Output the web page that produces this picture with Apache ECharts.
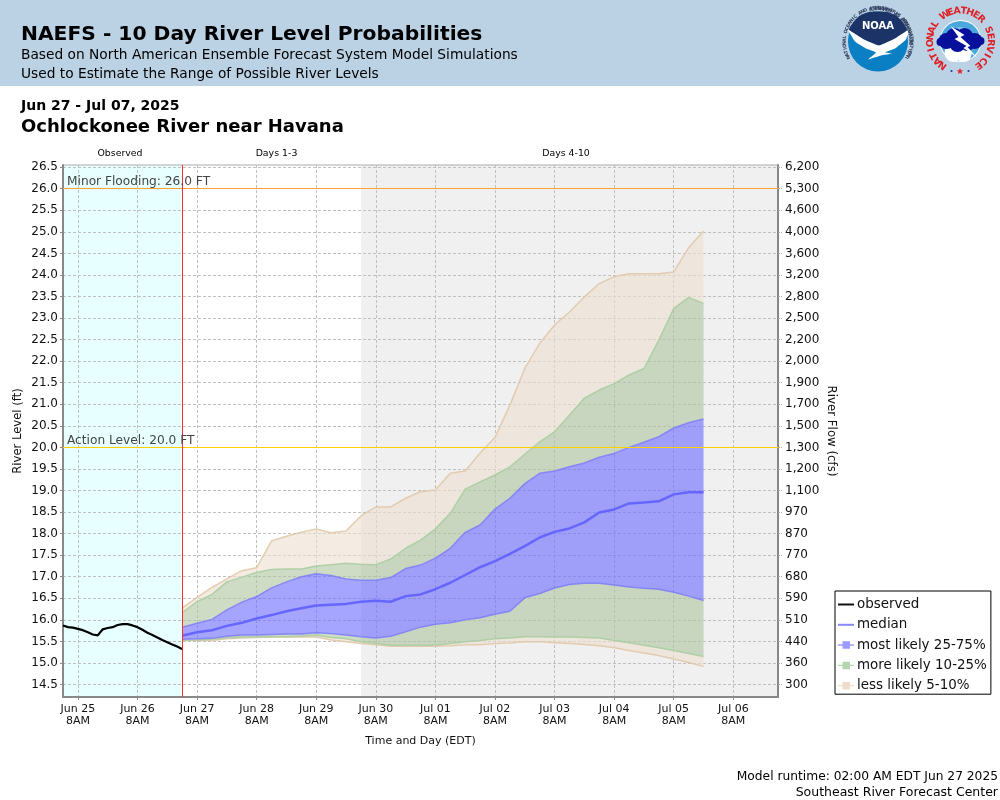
<!DOCTYPE HTML>
<html lang="en">
<head>
<title>NAEFS - 10 Day River Level Probabilities</title>
<meta http-equiv="Content-Type" content="text/html; charset=utf-8" />
<style type="text/css">
html,body{ margin:0; padding:0; background:#fff; }
#container{ width:1000px; height:800px; }
</style>
</head>
<body>
<div id="container"></div>
<script src="https://cdn.jsdelivr.net/npm/echarts@6/dist/echarts.min.js"></script>
<script>
// x values are hours since Jun 25 00:00 EDT
var levelTicks = [14.5,15,15.5,16,16.5,17,17.5,18,18.5,19,19.5,20,20.5,21,21.5,22,22.5,23,23.5,24,24.5,25,25.5,26,26.5];
var flowLabels = ['300','360','440','510','590','680','770','870','970','1,100','1,200','1,300','1,500','1,700','1,900','2,000','2,200','2,500','2,800','3,200','3,600','4,000','4,600','5,300','6,200'];
var dayTicks = [8,32,56,80,104,128,152,176,200,224,248,272];
var dayLabels = ['Jun 25','Jun 26','Jun 27','Jun 28','Jun 29','Jun 30','Jul 01','Jul 02','Jul 03','Jul 04','Jul 05','Jul 06'];

var observedHours = [2,4,6,8,10,12,14,16,18,20,22,24,26,28,30,32,34,36,38,40,42,44,46,48,50];
var observed = [15.87,15.83,15.82,15.79,15.76,15.71,15.66,15.64,15.78,15.81,15.83,15.88,15.90,15.90,15.87,15.83,15.77,15.70,15.65,15.59,15.53,15.48,15.43,15.38,15.32];

var forecastHours = [50,56,62,68,74,80,86,92,98,104,110,116,122,128,134,140,146,152,158,164,170,176,182,188,194,200,206,212,218,224,230,236,242,248,254,260];
var median = [15.63,15.71,15.76,15.86,15.93,16.03,16.11,16.20,16.27,16.33,16.35,16.37,16.42,16.44,16.42,16.55,16.59,16.71,16.86,17.04,17.22,17.36,17.53,17.71,17.91,18.04,18.12,18.26,18.49,18.56,18.70,18.72,18.75,18.91,18.96,18.96];
var p05 = [15.52,15.52,15.52,15.56,15.58,15.59,15.60,15.60,15.60,15.60,15.53,15.49,15.45,15.42,15.39,15.39,15.39,15.39,15.40,15.42,15.42,15.45,15.46,15.49,15.49,15.47,15.45,15.43,15.40,15.35,15.29,15.23,15.17,15.09,15.01,14.92];
var p10 = [15.52,15.53,15.55,15.58,15.60,15.60,15.61,15.61,15.62,15.64,15.59,15.56,15.49,15.45,15.41,15.41,15.41,15.41,15.45,15.49,15.52,15.56,15.58,15.61,15.61,15.60,15.60,15.59,15.58,15.52,15.47,15.41,15.35,15.29,15.22,15.15];
var p25 = [15.55,15.56,15.57,15.62,15.65,15.65,15.66,15.67,15.67,15.70,15.68,15.65,15.61,15.58,15.62,15.72,15.83,15.90,15.93,16.00,16.05,16.13,16.20,16.51,16.61,16.74,16.82,16.85,16.85,16.81,16.76,16.73,16.71,16.64,16.55,16.45];
var p75 = [15.83,15.92,16.01,16.23,16.41,16.54,16.74,16.88,17.00,17.07,17.03,16.95,16.92,16.92,16.98,17.19,17.27,17.43,17.66,18.03,18.20,18.57,18.82,19.16,19.40,19.45,19.55,19.64,19.77,19.86,20.00,20.12,20.25,20.45,20.57,20.66];
var p90 = [16.16,16.42,16.59,16.88,16.99,17.10,17.17,17.18,17.18,17.25,17.28,17.31,17.29,17.28,17.41,17.66,17.85,18.11,18.47,19.03,19.20,19.36,19.55,19.84,20.13,20.36,20.75,21.14,21.33,21.48,21.68,21.83,22.49,23.22,23.48,23.34];
var p95 = [16.27,16.52,16.75,16.95,17.14,17.21,17.83,17.94,18.03,18.11,18.02,18.06,18.41,18.62,18.62,18.82,18.97,19.01,19.40,19.45,19.87,20.23,20.98,21.83,22.41,22.84,23.14,23.49,23.80,23.96,24.03,24.03,24.03,24.07,24.63,25.02];

var FONT = '"DejaVu Sans"';
var BLUE_FILL = 'rgba(105,105,255,0.6)', BLUE_EDGE = 'rgba(120,120,250,0.8)';
var GREEN_FILL = 'rgba(173,197,160,0.6)', GREEN_EDGE = 'rgba(170,205,160,0.9)';
var TAN_FILL = 'rgba(237,223,206,0.6)', TAN_EDGE = 'rgba(225,200,170,0.9)';
var GRID_LINE = { color: '#c0c0c0', type: [3, 2], width: 1 };

function pairs(xs, ys) {
    return xs.map(function (x, i) { return [x, ys[i]]; });
}
// one polygon between two percentile lists, drawn once for the whole series
function bandSeries(name, lo, hi, fill) {
    return {
        name: name, type: 'custom', silent: true, z: 3, clip: true,
        data: forecastHours.map(function (x, i) { return [x, lo[i], hi[i]]; }),
        encode: { x: 0, y: [1, 2] },
        renderItem: function (params, api) {
            if (params.dataIndex !== 0) return;
            var top = [], bottom = [];
            for (var i = 0; i < forecastHours.length; i++) {
                bottom.push(api.coord([forecastHours[i], lo[i]]));
                top.unshift(api.coord([forecastHours[i], hi[i]]));
            }
            return { type: 'polygon', shape: { points: bottom.concat(top) }, style: { fill: fill, stroke: null } };
        }
    };
}
function edgeSeries(name, values, color) {
    return {
        name: name, type: 'line', showSymbol: false, symbol: 'none', silent: true, z: 4,
        data: pairs(forecastHours, values),
        lineStyle: { color: color, width: 1.5 }
    };
}

// header and page text
function label(x, y, text, font, align, fill) {
    return { type: 'text', x: x, y: y, silent: true,
        style: { text: text, font: font, fill: fill || '#000', align: align || 'left', verticalAlign: 'middle' } };
}
// letters around a circle, angles are clockwise from the top
function ringText(cx, cy, r, text, start, step, font, fill, inward) {
    var out = [];
    for (var i = 0; i < text.length; i++) {
        var a = (start + step * i) * Math.PI / 180;
        out.push({ type: 'text', silent: true,
            x: cx + r * Math.sin(a), y: cy - r * Math.cos(a),
            rotation: inward ? -a + Math.PI : -a,
            style: { text: text[i], font: font, fill: fill, align: 'center', verticalAlign: 'middle' } });
    }
    return out;
}
function disc(x, y, r, fill) {
    return { type: 'circle', silent: true, shape: { cx: x, cy: y, r: r }, style: { fill: fill } };
}
function poly(points, fill, smooth) {
    return { type: 'polygon', silent: true, shape: { points: points, smooth: smooth || 0 }, style: { fill: fill } };
}

var noaaLogo = {
    type: 'group', x: -2, y: 1.5,
    children: [
        disc(880, 40, 30, '#0a7fc4'),
        poly([[851,29],[855,21],[862,14],[871,10.5],[880,10],[889,10.5],[898,14],[905,21],[909,29],[897,37],[881,44],[866,38]], '#1c3368', 0.2),
        poly([[850,28],[866,38],[881,44],[897,37],[911,28],[908,38],[897,47],[887,51],[894,52],[883,54],[870,58],[878,51],[868,47],[857,40]], '#fff', 0.1),
        label(880, 25, 'NOAA', 'bold 10px ' + FONT, 'center', '#fff')
    ].concat(
        ringText(880, 40, 33.5, 'NATIONAL OCEANIC AND ATMOSPHERIC ADMINISTRATION', -118, 5.05, 'bold 4.6px ' + FONT, '#33415f', false),
        ringText(880, 40, 33.5, 'U.S. DEPARTMENT OF COMMERCE', 118, -5.05, 'bold 4.6px ' + FONT, '#33415f', true)
    )
};

var nwsLogo = {
    type: 'group', x: 1.5, y: 0,
    children: [
        disc(959, 41, 21, '#fff'),
        disc(959, 41, 20, '#4aa8dc'),
        disc(959, 41, 14, '#7cc4e8'),
        disc(952, 53, 9, '#fff'), disc(962, 54, 8, '#fff'),
        disc(945, 41, 8, '#06109a'), disc(953, 37, 9, '#06109a'), disc(963, 37, 9, '#06109a'),
        disc(973, 41, 8, '#06109a'), disc(956, 44, 8, '#06109a'), disc(966, 44, 7, '#06109a'), disc(939, 42, 4, '#06109a'), disc(979, 41, 4, '#06109a'),
        poly([[949,26],[963,35],[959,37],[969,46],[966,47],[976,58],[962,48],[965,46],[953,39],[957,37]], '#fff'),
        disc(950, 71, 1.1, '#1c3fa0'), disc(967, 71, 1.1, '#1c3fa0'),
        poly([[958.5,68],[959.4,70.3],[961.8,70.3],[959.9,71.8],[960.6,74],[958.5,72.7],[956.4,74],[957.1,71.8],[955.2,70.3],[957.6,70.3]], '#e02027')
    ].concat(
        ringText(959, 41, 30, 'NATIONAL WEATHER SERVICE', -144, 12.5, 'bold 9.5px ' + FONT, '#e02027', false)
    )
};

var pageGraphics = [
    { type: 'rect', silent: true, shape: { x: 0, y: 0, width: 1000, height: 86 }, style: { fill: '#bbd2e5' } },
    label(21, 34.5, 'NAEFS - 10 Day River Level Probabilities', 'bold 20.25px ' + FONT),
    label(21, 55, 'Based on North American Ensemble Forecast System Model Simulations', '13.75px ' + FONT),
    label(21, 74, 'Used to Estimate the Range of Possible River Levels', '13.75px ' + FONT),
    label(21, 106.5, 'Jun 27 - Jul 07, 2025', 'bold 14px ' + FONT),
    label(21, 127, 'Ochlockonee River near Havana', 'bold 18px ' + FONT),
    label(120, 154, 'Observed', '9.4px ' + FONT, 'center'),
    label(276.5, 154, 'Days 1-3', '9.4px ' + FONT, 'center'),
    label(566, 154, 'Days 4-10', '9.4px ' + FONT, 'center'),
    label(998, 776.5, 'Model runtime: 02:00 AM EDT Jun 27 2025', '12.25px ' + FONT, 'right'),
    label(998, 792.5, 'Southeast River Forecast Center', '12.5px ' + FONT, 'right'),
    noaaLogo,
    nwsLogo
];

var chart = echarts.init(document.getElementById('container'));
var legendIcon = 'path://M0 4.5h16v1.4H0z M4.5 1.5h7.5v7.5H4.5z';
var lineIcon = 'path://M0 4.5h16v2H0z';

var option = {
    animation: false,
    backgroundColor: '#fff',
    textStyle: { fontFamily: FONT },
    graphic: { elements: pageGraphics },
    grid: { left: 63, right: 222, top: 165, bottom: 103, outerBoundsMode: 'none', show: true, borderColor: '#aaa', borderWidth: 1, backgroundColor: 'transparent' },
    legend: {
        left: 835, top: 591, orient: 'vertical', selectedMode: false,
        itemWidth: 16, itemHeight: 10, itemGap: 7.3,
        padding: [7, 4, 2, 3], backgroundColor: '#fff', borderColor: '#000', borderWidth: 1,
        textStyle: { fontFamily: FONT, fontSize: 13.45, color: '#111', padding: [0, 0, 0, -2] },
        data: [
            { name: 'observed', icon: lineIcon, itemStyle: { color: '#111' } },
            { name: 'median', icon: lineIcon, itemStyle: { color: '#8888ff' } },
            { name: 'most likely 25-75%', icon: legendIcon, itemStyle: { color: '#9a9aff' } },
            { name: 'more likely 10-25%', icon: legendIcon, itemStyle: { color: '#b4d6ae' } },
            { name: 'less likely 5-10%', icon: legendIcon, itemStyle: { color: '#eeddc8' } }
        ]
    },
    xAxis: {
        type: 'value', min: 2, max: 290,
        name: 'Time and Day (EDT)', nameLocation: 'middle', nameGap: 39,
        nameTextStyle: { fontFamily: FONT, fontSize: 11, color: '#111' },
        axisLine: { onZero: false, lineStyle: { color: '#888', width: 2 } },
        axisTick: { length: 3, customValues: dayTicks, lineStyle: { color: '#888' } },
        axisLabel: {
            customValues: dayTicks, margin: 6, fontFamily: FONT, fontSize: 11, lineHeight: 12, color: '#111',
            formatter: function (v) { return dayLabels[dayTicks.indexOf(v)] + '\n8AM'; }
        },
        splitLine: { show: true, lineStyle: GRID_LINE }
    },
    yAxis: [{
        type: 'value', min: 14.21, max: 26.55, position: 'left',
        name: 'River Level (ft)', nameLocation: 'middle', nameGap: 39, nameRotate: 90, nameMoveOverlap: false,
        nameTextStyle: { fontFamily: FONT, fontSize: 11.6, color: '#111' },
        axisLine: { show: true, lineStyle: { color: '#888', width: 2 } },
        axisTick: { show: true, length: 3, customValues: levelTicks, lineStyle: { color: '#888' } },
        axisLabel: {
            customValues: levelTicks, margin: 5, fontFamily: FONT, fontSize: 12, color: '#111', padding: [3, 0, 0, 0],
            formatter: function (v) { return v.toFixed(1); }
        },
        splitLine: { show: true, lineStyle: GRID_LINE }
    }, {
        type: 'value', min: 14.21, max: 26.55, position: 'right',
        name: 'River Flow (cfs)', nameLocation: 'middle', nameGap: 47, nameRotate: -90, nameMoveOverlap: false,
        nameTextStyle: { fontFamily: FONT, fontSize: 11.8, color: '#111' },
        axisLine: { show: true, lineStyle: { color: '#888', width: 2 } },
        axisTick: { show: true, length: 4, customValues: levelTicks, lineStyle: { color: '#aaa', type: [2, 1] } },
        axisLabel: {
            customValues: levelTicks, margin: 7, fontFamily: FONT, fontSize: 12, color: '#111', padding: [3, 0, 0, 0],
            formatter: function (v) { return flowLabels[levelTicks.indexOf(v)]; }
        },
        splitLine: { show: false }
    }],
    series: [
        bandSeries('less likely 5-10%', p05, p10, TAN_FILL),
        bandSeries('more likely 10-25%', p10, p25, GREEN_FILL),
        bandSeries('most likely 25-75%', p25, p75, BLUE_FILL),
        bandSeries('upper green', p75, p90, GREEN_FILL),
        bandSeries('upper tan', p90, p95, TAN_FILL),
        {
            // 5% edge, also carries the shaded periods
            name: 'p05', type: 'line', showSymbol: false, symbol: 'none', silent: true, z: 4,
            data: pairs(forecastHours, p05),
            lineStyle: { color: TAN_EDGE, width: 1.5 },
            markArea: {
                silent: true, z: -1,
                data: [
                    [{ xAxis: 2, itemStyle: { color: '#e8ffff' } }, { xAxis: 50 }],
                    [{ xAxis: 122, itemStyle: { color: '#f0f0f0' } }, { xAxis: 290 }]
                ]
            }
        },
        edgeSeries('p10', p10, GREEN_EDGE),
        edgeSeries('p25', p25, BLUE_EDGE),
        edgeSeries('p75', p75, BLUE_EDGE),
        edgeSeries('p90', p90, GREEN_EDGE),
        edgeSeries('p95', p95, TAN_EDGE),
        {
            name: 'median', type: 'line', showSymbol: false, symbol: 'none', silent: true, z: 5,
            data: pairs(forecastHours, median),
            lineStyle: { color: '#6666ff', width: 2.5 }
        },
        {
            name: 'observed', type: 'line', showSymbol: false, symbol: 'none', silent: true, z: 5,
            data: pairs(observedHours, observed),
            lineStyle: { color: '#000', width: 2.2 },
            markLine: {
                silent: true, symbol: 'none', z: 6,
                data: [
                    { yAxis: 26, lineStyle: { color: '#ffa033', width: 1, type: 'solid' },
                      label: { show: true, formatter: 'Minor Flooding: 26.0 FT', position: 'insideStartTop', fontFamily: FONT, fontSize: 12.2, color: '#444', distance: [4, 1] } },
                    { yAxis: 20, lineStyle: { color: '#ffd000', width: 1, type: 'solid' },
                      label: { show: true, formatter: 'Action Level: 20.0 FT', position: 'insideStartTop', fontFamily: FONT, fontSize: 12.2, color: '#444', distance: [4, 1] } },
                    { xAxis: 50, lineStyle: { color: '#ff2a2a', width: 1, type: 'solid' }, label: { show: false } }
                ]
            }
        }
    ]
};
chart.setOption(option);
</script>
</body>
</html>
